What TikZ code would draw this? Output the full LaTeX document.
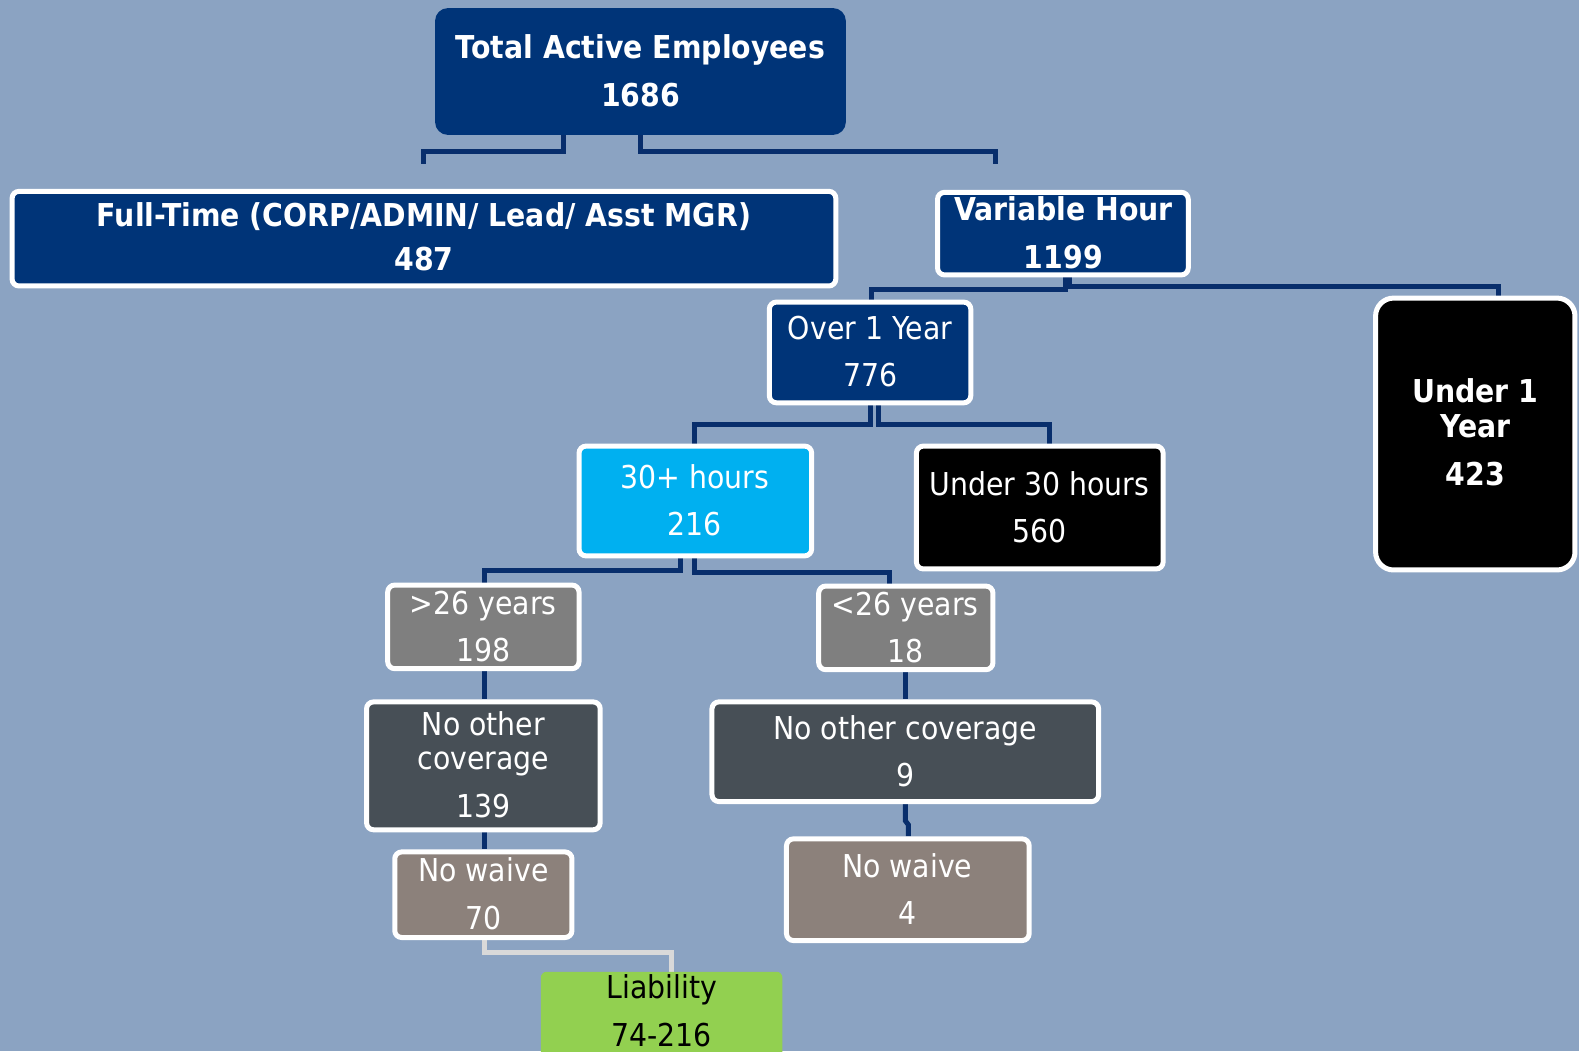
\documentclass[tikz,border=0pt]{standalone}
\usepackage{fontspec}
\setmainfont{DejaVu Sans}[FakeStretch=0.9]
\usetikzlibrary{fit}
\definecolor{bgc}{RGB}{139,163,194}
\definecolor{navy}{RGB}{0,52,120}
\definecolor{conn}{RGB}{8,46,108}
\definecolor{cyanb}{RGB}{0,176,240}
\definecolor{grayb}{RGB}{127,127,127}
\definecolor{slate}{RGB}{71,79,86}
\definecolor{taupe}{RGB}{140,129,123}
\definecolor{greenb}{RGB}{146,208,80}
\definecolor{lightc}{RGB}{217,217,217}
\pgfdeclarelayer{bglayer}
\pgfdeclarelayer{connlayer}
\pgfsetlayers{bglayer,connlayer,main}
\tikzset{
  box/.style={inner sep=0pt, rounded corners=7pt, draw=white, line width=5pt},
  rootbox/.style={inner sep=0pt, rounded corners=13pt, fill=navy},
  tx/.style={anchor=base, text=white, inner sep=0pt, font=\fontsize{31.5}{36}\selectfont},
  txb/.style={tx, font=\fontsize{31.5}{36}\selectfont\bfseries},
  link/.style={draw=conn, line width=5pt},
  lightlink/.style={draw=lightc, line width=5pt}
}
\begin{document}
\begin{tikzpicture}[x=1.007pt,y=-1.007pt]
\begin{pgfonlayer}{bglayer}
\fill[bgc] (0,0) rectangle (1568,1044);
\end{pgfonlayer}
\useasboundingbox (0,0) rectangle (1568,1044);
\clip (0,0) rectangle (1568,1044);
% boxes
\node[rootbox, fit={(432,8)(840,134)}] (root) {};
\node[box, fill=navy, fit={(12,190)(830,284)}] (ft) {};
\node[box, fill=navy, fit={(931,191)(1180,273)}] (vh) {};
\node[box, fill=navy, fit={(764,300)(964,400)}] (o1) {};
\node[box, fill=black, rounded corners=18pt, fit={(1366,296)(1564,566)}] (u1) {};
\node[box, fill=cyanb, fit={(575,443)(806,552)}] (h30) {};
\node[box, fill=black, fit={(910,443)(1155,565)}] (u30) {};
\node[box, fill=grayb, fit={(385,581)(575,664)}] (g26) {};
\node[box, fill=grayb, fit={(813,582)(986,665)}] (l26) {};
\node[box, fill=slate, fit={(364,697)(596,824)}] (noc1) {};
\node[box, fill=slate, fit={(707,697)(1091,796)}] (noc2) {};
\node[box, fill=taupe, fit={(392,846)(568,931)}] (nw1) {};
\node[box, fill=taupe, fit={(781,833)(1022,934)}] (nw2) {};
\node[inner sep=0pt, rounded corners=6pt, fill=greenb, fit={(537,965)(777,1070)}] (liab) {};
% connectors
\coordinate (ftin) at (421,163);
\coordinate (vhin) at (989,163);
\begin{pgfonlayer}{connlayer}
\draw[link] (root.south -| 560,0) |- (421,150) -- (ftin);
\draw[link] (root.south -| 636,0) |- (989,150) -- (vhin);
\draw[link] (vh.south -| 1058,0) |- (865,287) -- (o1.north -| 865,0);
\draw[link] (vh.south -| 1062,0) |- (1488,285) -- (u1.north -| 1488,0);
\draw[link] (o1.south -| 864,0) |- (690,422) -- (h30.north -| 690,0);
\draw[link] (o1.south -| 872,0) |- (1042,422) -- (u30.north -| 1042,0);
\draw[link] (h30.south -| 676,0) |- (481,567) -- (g26.north -| 481,0);
\draw[link] (h30.south -| 690,0) |- (883,569) -- (l26.north -| 883,0);
\draw[link] (g26.south -| 481,0) -- (noc1.north -| 481,0);
\draw[link] (l26.south -| 899,0) -- (noc2.north -| 899,0);
\draw[link] (noc1.south -| 481,0) -- (nw1.north -| 481,0);
\draw[link] (noc2.south -| 899,0) -- (899,815) -- (902,819) -- (nw2.north -| 902,0);
\draw[lightlink] (nw1.south -| 481,0) |- (667,946) -- (liab.north -| 667,0);
\end{pgfonlayer}
% texts
\node[txb] (t1a) at (636,58) {Total Active Employees};
\node[txb] (t1b) at (636,106) {1686};
\node[txb] (t2a) at (421,225) {Full-Time (CORP/ADMIN/ Lead/ Asst MGR)};
\node[txb] (t2b) at (421,269) {487};
\node[txb] (t3a) at (1056,219) {Variable Hour};
\node[txb] (t3b) at (1056,267) {1199};
\node[tx] (t4a) at (864,337) {Over 1 Year};
\node[tx] (t4b) at (864,384) {776};
\node[txb] (t5a) at (1465,400) {Under 1};
\node[txb] (t5b) at (1465,434) {Year};
\node[txb] (t5c) at (1465,482) {423};
\node[tx] (t6a) at (690,485) {30+ hours};
\node[tx] (t6b) at (690,532) {216};
\node[tx] (t7a) at (1032,492) {Under 30 hours};
\node[tx] (t7b) at (1032,539) {560};
\node[tx] (t8a) at (480,610) {>26 years};
\node[tx] (t8b) at (480,657) {198};
\node[tx] (t9a) at (899,611) {<26 years};
\node[tx] (t9b) at (899,658) {18};
\node[tx] (t10a) at (480,730) {No other};
\node[tx] (t10b) at (480,764) {coverage};
\node[tx] (t10c) at (480,812) {139};
\node[tx] (t11a) at (899,734) {No other coverage};
\node[tx] (t11b) at (899,781) {9};
\node[tx] (t12a) at (480,875) {No waive};
\node[tx] (t12b) at (480,923) {70};
\node[tx] (t13a) at (901,871) {No waive};
\node[tx] (t13b) at (901,918) {4};
\node[tx, text=black] (t14a) at (657,992) {Liability};
\node[tx, text=black] (t14b) at (657,1039) {74-216};
\end{tikzpicture}
\end{document}
